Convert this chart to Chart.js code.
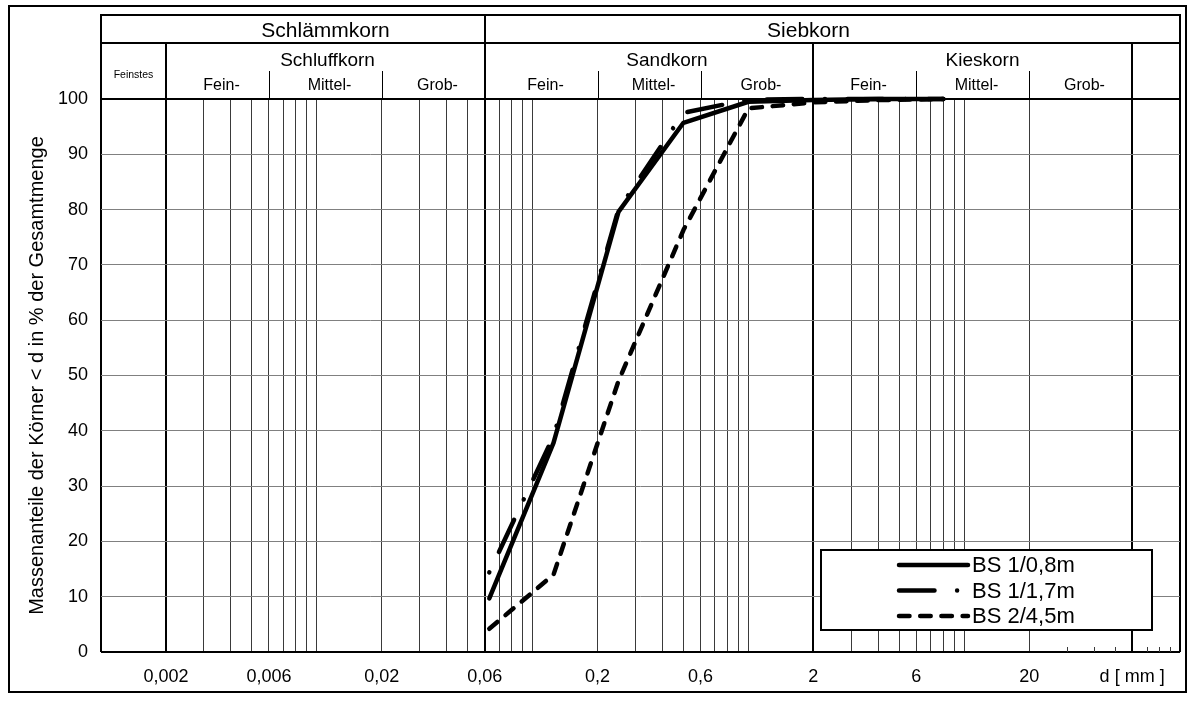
<!DOCTYPE html>
<html>
<head>
<meta charset="utf-8">
<script src="https://cdn.jsdelivr.net/npm/chart.js@4.4.0/dist/chart.umd.min.js"></script>
<style>
  html, body { margin: 0; padding: 0; background: #fff; }
  #wrap { position: relative; width: 1194px; height: 701px; }
</style>
</head>
<body>
<div id="wrap"><canvas id="koernung"></canvas></div>
<script>
// ===== Daten (Siebanalyse) =====
const siebweiten = [0.063, 0.125, 0.25, 0.5, 1, 2, 4, 8];        // d in mm
const bs1_08 = [9.7, 37.8, 79.6, 95.7, 99.5, 99.8, 100, 100];     // BS 1/0,8m
const bs1_17 = [14.4, 39.0, 80.0, 97.5, 99.9, 100, 100, 100];     // BS 1/1,7m
const bs2_45 = [4.2, 14.0, 49.0, 76.3, 98.3, 99.4, 99.8, 100];    // BS 2/4,5m
const serienNamen = ['BS 1/0,8m', 'BS 1/1,7m', 'BS 2/4,5m'];

// ===== Achsen =====
const xMin = 0.001, xMax = 100;
const xRasterWerte = [
  0.001, 0.002, 0.003, 0.004, 0.005, 0.006, 0.007, 0.008, 0.009, 0.01,
  0.02, 0.03, 0.04, 0.05, 0.06, 0.07, 0.08, 0.09, 0.1,
  0.2, 0.3, 0.4, 0.5, 0.6, 0.7, 0.8, 0.9, 1,
  2, 3, 4, 5, 6, 7, 8, 9, 10, 20, 60, 100
];
const xDickeLinien = [0.001, 0.002, 0.06, 2, 60, 100];
const xKurzeStriche = [30, 40, 50, 70, 80, 90];
const xLabelWerte = [0.002, 0.006, 0.02, 0.06, 0.2, 0.6, 2, 6, 20, 60];
const xLabelTexte = ['0,002', '0,006', '0,02', '0,06', '0,2', '0,6', '2', '6', '20', 'd [ mm ]'];
const yTitel = 'Massenanteile der Körner < d in % der Gesamtmenge';

// ===== Kopf (Bodenarten) =====
const gruppen = ['Schlämmkorn', 'Siebkorn'];
const gruppenGrenzen = [[0.002, 0.06], [0.06, 60]];
const bodenarten = ['Schluffkorn', 'Sandkorn', 'Kieskorn'];
const bodenartGrenzen = [[0.002, 0.006, 0.02, 0.06], [0.06, 0.2, 0.6, 2], [2, 6, 20, 60]];
const stufen = ['Fein-', 'Mittel-', 'Grob-'];
const feinstes = 'Feinstes';

const FONT = '"Liberation Sans", Arial, Helvetica, sans-serif';

const gleich = (a, b) => Math.abs(a - b) < b * 1e-6;
const istIn = (v, liste) => liste.some(w => gleich(v, w));

// ===== Plugins =====
const rahmenPlugin = {
  id: 'rahmen',
  beforeDraw(chart) {
    const { ctx, width, height } = chart;
    ctx.save();
    ctx.fillStyle = '#fff';
    ctx.fillRect(0, 0, width, height);
    ctx.restore();
  },
  afterDraw(chart) {
    const { ctx } = chart;
    ctx.save();
    ctx.strokeStyle = '#000';
    ctx.lineWidth = 2;
    ctx.strokeRect(9, 6, 1177, 686);
    ctx.restore();
  }
};

const kopfPlugin = {
  id: 'kopf',
  afterDraw(chart) {
    const { ctx, chartArea: ca, scales: { x } } = chart;
    const px = v => Math.round(x.getPixelForValue(v));
    const oben = ca.top - 84;
    const mitte = ca.top - 56;
    const stufeOben = ca.top - 28;
    const bodenartVersatz = [2, 18, 10]; // Textboxen im Original leicht versetzt

    ctx.save();
    ctx.strokeStyle = '#000';

    // dicke Linien
    ctx.lineWidth = 2;
    ctx.beginPath();
    ctx.moveTo(px(xMin) - 1, oben); ctx.lineTo(px(xMax) + 1, oben);
    ctx.moveTo(px(xMin), mitte); ctx.lineTo(px(xMax), mitte);
    [xMin, 0.06, xMax].forEach(v => { ctx.moveTo(px(v), oben); ctx.lineTo(px(v), ca.top); });
    [0.002, 2, 60].forEach(v => { ctx.moveTo(px(v), mitte); ctx.lineTo(px(v), ca.top); });
    ctx.stroke();

    // Trennstriche Fein/Mittel/Grob
    ctx.lineWidth = 1;
    ctx.beginPath();
    bodenartGrenzen.forEach(g => {
      [g[1], g[2]].forEach(v => { ctx.moveTo(px(v) + 0.5, stufeOben); ctx.lineTo(px(v) + 0.5, ca.top); });
    });
    ctx.stroke();

    // kurze Striche unten im Kiesbereich
    ctx.strokeStyle = '#3a3a3a';
    ctx.beginPath();
    xKurzeStriche.forEach(v => { ctx.moveTo(px(v) + 0.5, ca.bottom); ctx.lineTo(px(v) + 0.5, ca.bottom - 5); });
    ctx.stroke();

    // Texte
    ctx.fillStyle = '#000';
    ctx.textAlign = 'center';
    ctx.textBaseline = 'alphabetic';
    ctx.font = `21px ${FONT}`;
    gruppen.forEach((t, i) => {
      const [a, b] = gruppenGrenzen[i];
      ctx.fillText(t, (px(a) + px(b)) / 2, oben + 22);
    });
    ctx.font = `19px ${FONT}`;
    bodenarten.forEach((t, i) => {
      const g = bodenartGrenzen[i];
      ctx.fillText(t, (px(g[0]) + px(g[3])) / 2 + bodenartVersatz[i], mitte + 23);
    });
    ctx.font = `16px ${FONT}`;
    bodenartGrenzen.forEach(g => {
      stufen.forEach((t, j) => {
        ctx.fillText(t, (px(g[j]) + px(g[j + 1])) / 2 + 4, ca.top - 9);
      });
    });
    ctx.font = `10.5px ${FONT}`;
    ctx.fillText(feinstes, (px(xMin) + px(0.002)) / 2, ca.top - 21);
    ctx.restore();
  }
};

const legendePlugin = {
  id: 'legende',
  afterDatasetsDraw(chart) {
    const { ctx, chartArea: ca } = chart;
    const l = ca.left + 720, t = ca.top + 451, w = 331, h = 80;
    ctx.save();
    ctx.fillStyle = '#fff';
    ctx.fillRect(l, t, w, h);
    ctx.strokeStyle = '#000';
    ctx.lineWidth = 2;
    ctx.strokeRect(l, t, w, h);

    chart.data.datasets.forEach((ds, i) => {
      const y = t + 15 + i * 25.5;
      ctx.save();
      ctx.strokeStyle = ds.borderColor;
      ctx.lineWidth = ds.borderWidth;
      ctx.lineCap = ds.borderCapStyle || 'butt';
      ctx.setLineDash(ds.borderDash || []);
      ctx.lineDashOffset = ds.legendDashOffset || 0;
      ctx.beginPath();
      ctx.moveTo(l + 78, y);
      ctx.lineTo(l + 147, y);
      ctx.stroke();
      ctx.restore();
      ctx.fillStyle = '#000';
      ctx.font = `22px ${FONT}`;
      ctx.textAlign = 'left';
      ctx.textBaseline = 'middle';
      ctx.fillText(ds.label, l + 151, y + 1);
    });
    ctx.restore();
  }
};

// ===== Chart =====
const punkte = werte => siebweiten.map((d, i) => ({ x: d, y: werte[i] }));

const linie = {
  borderColor: '#000',
  borderWidth: 4.5,
  pointRadius: 0,
  borderCapStyle: 'round',
  borderJoinStyle: 'round',
  tension: 0,
  fill: false,
  clip: false
};

new Chart(document.getElementById('koernung'), {
  type: 'line',
  data: {
    datasets: [
      { ...linie, label: serienNamen[0], data: punkte(bs1_08) },
      { ...linie, label: serienNamen[1], data: punkte(bs1_17), borderDash: [0.01, 22.6, 35.5, 22.6], legendDashOffset: 22.61 },
      { ...linie, label: serienNamen[2], data: punkte(bs2_45), borderDash: [10.5, 10.7] }
    ]
  },
  options: {
    responsive: true,
    maintainAspectRatio: false,
    animation: false,
    layout: { padding: { top: 99, right: 13, bottom: 0, left: 0 } },
    plugins: {
      legend: { display: false },
      tooltip: { enabled: false }
    },
    scales: {
      x: {
        type: 'logarithmic',
        min: xMin,
        max: xMax,
        afterBuildTicks: s => { s.ticks = xRasterWerte.map(v => ({ value: v })); },
        afterFit: s => { s.height = 49; },
        border: { display: false },
        grid: {
          drawTicks: false,
          color: c => istIn(c.tick.value, xDickeLinien) ? '#000' : '#3a3a3a',
          lineWidth: c => istIn(c.tick.value, xDickeLinien) ? 2 : 1
        },
        ticks: {
          autoSkip: false,
          maxRotation: 0,
          minRotation: 0,
          padding: 14,
          color: '#000',
          font: { size: 18, family: FONT },
          callback: v => {
            const i = xLabelWerte.findIndex(w => gleich(v, w));
            return i >= 0 ? xLabelTexte[i] : '';
          }
        }
      },
      y: {
        min: 0,
        max: 100,
        afterFit: s => { s.width = 101; },
        border: { display: false },
        grid: {
          drawTicks: false,
          color: c => (c.tick.value === 0 || c.tick.value === 100) ? '#000' : '#808080',
          lineWidth: c => (c.tick.value === 0 || c.tick.value === 100) ? 2 : 1
        },
        ticks: {
          stepSize: 10,
          padding: 13,
          color: '#000',
          font: { size: 18, family: FONT }
        },
        title: {
          display: true,
          text: yTitel,
          color: '#000',
          font: { size: 20, family: FONT },
          padding: { top: 25, bottom: 0 }
        }
      }
    }
  },
  plugins: [rahmenPlugin, kopfPlugin, legendePlugin]
});
</script>
</body>
</html>
